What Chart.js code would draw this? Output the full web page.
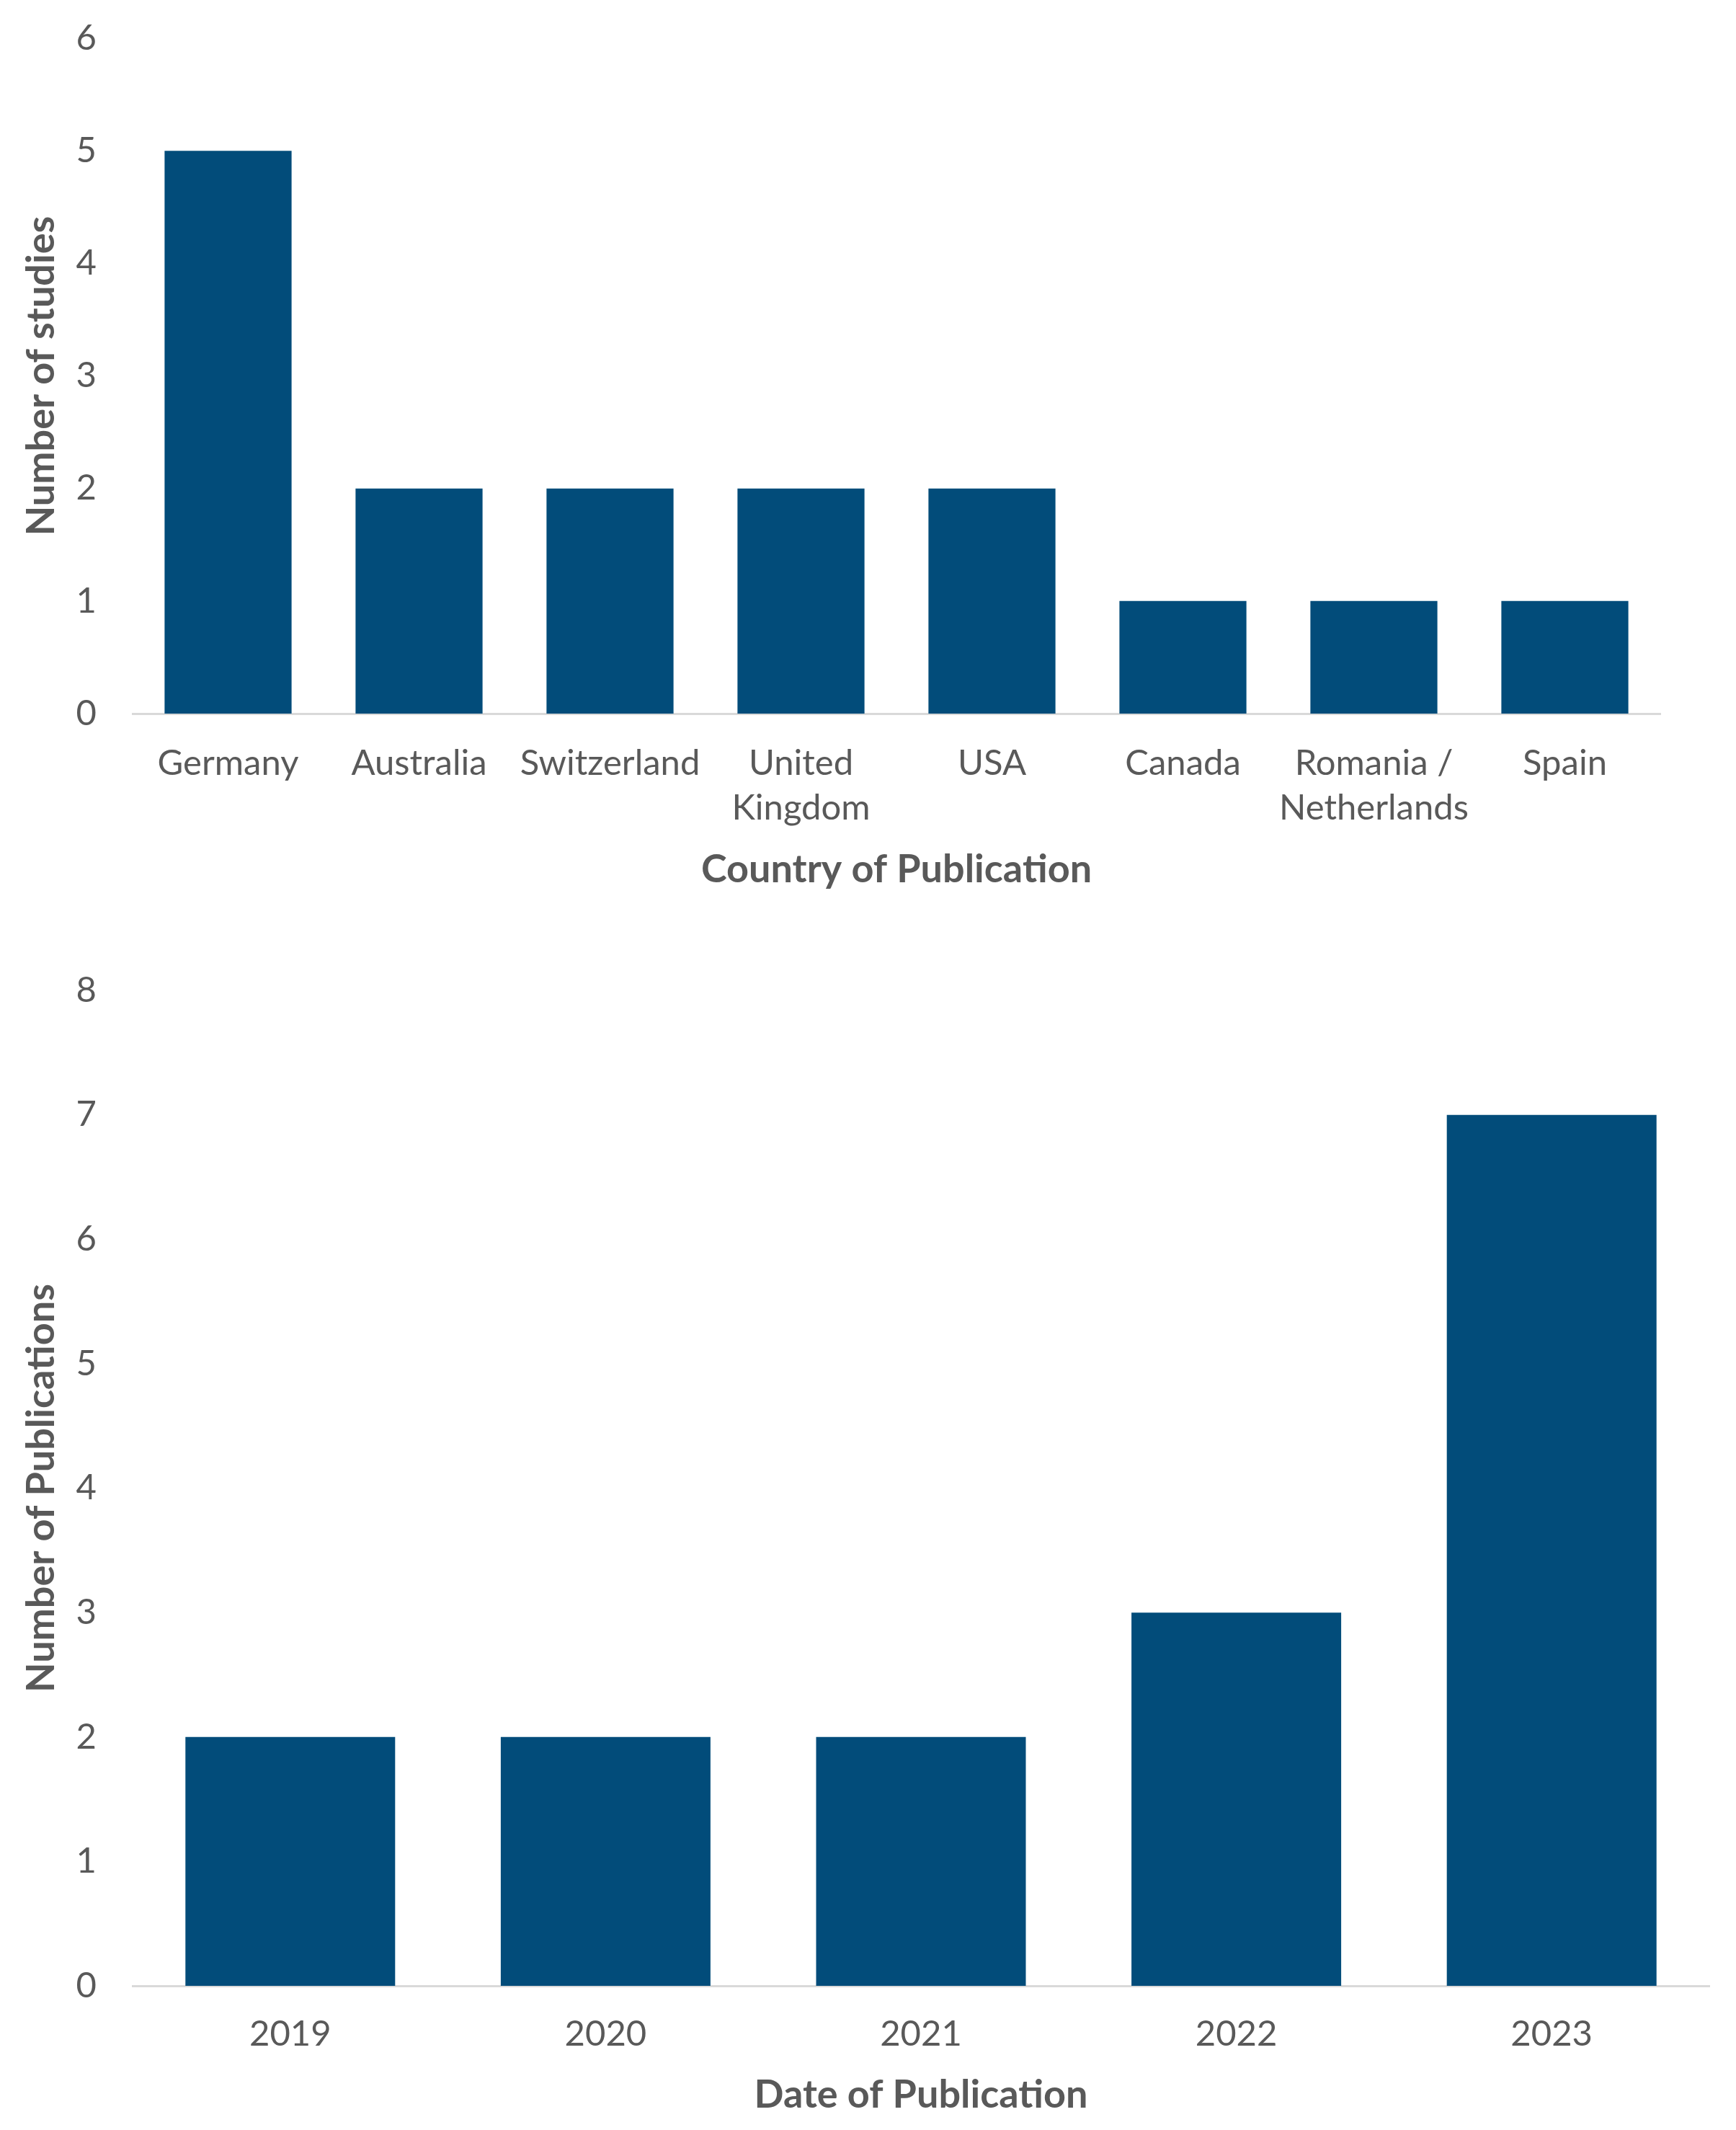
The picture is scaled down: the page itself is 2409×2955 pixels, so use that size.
<!DOCTYPE html>
<html>
<head>
<meta charset="utf-8">
<script src="https://cdn.jsdelivr.net/npm/chart.js@4.4.1/dist/chart.umd.min.js"></script>
<style>
    html, body { margin: 0; padding: 0; background: #fff; }
    body { width: 2409px; height: 2955px; position: relative; overflow: hidden; }
    canvas { position: absolute; left: 0; }
    #chart-country { top: 0; }
    #chart-year { top: 1295px; }
</style>
</head>
<body>
<canvas id="chart-country" width="2409" height="1260"></canvas>
<canvas id="chart-year" width="2409" height="1660"></canvas>
<script>
// Données
const countries = ['Germany', 'Australia', 'Switzerland', ['United', 'Kingdom'], 'USA', 'Canada', ['Romania /', 'Netherlands'], 'Spain'];
const studies = [5, 2, 2, 2, 2, 1, 1, 1];

const years = ['2019', '2020', '2021', '2022', '2023'];
const publications = [2, 2, 2, 3, 7];

const countryMax = 6;
const yearMax = 8;

(function () {
    'use strict';

    Chart.defaults.font.family = 'Lato, "Open Sans", sans-serif';
    Chart.defaults.color = '#595959';

    const bar = '#024c7a';
    const axisLine = '#d9d9d9';
    const tickFont = { size: 49, lineHeight: 1.265 };
    const titleFont = { size: 54, weight: 'bold', lineHeight: 1.2 };

    // Même mise en page pour les deux graphiques : seule la géométrie change.
    function build(canvas, labels, values, max, yTitle, xTitle, geo) {
        return new Chart(canvas, {
            type: 'bar',
            data: {
                labels: labels,
                datasets: [{
                    data: values,
                    backgroundColor: bar,
                    borderWidth: 0,
                    categoryPercentage: 1,
                    barPercentage: 0.665
                }]
            },
            options: {
                responsive: false,
                animation: false,
                devicePixelRatio: 1,
                layout: { padding: { top: geo.top, right: geo.right, left: 0, bottom: 0 } },
                plugins: { legend: { display: false }, tooltip: { enabled: false } },
                scales: {
                    x: {
                        grid: { display: false, drawTicks: false },
                        border: { display: true, color: axisLine, width: 3 },
                        ticks: { font: tickFont, padding: geo.tickPad, maxRotation: 0, autoSkip: false },
                        title: { display: true, text: xTitle, font: titleFont, padding: { top: 0, bottom: geo.titlePad } },
                        afterFit: function (scale) { scale.height = geo.xHeight; }
                    },
                    y: {
                        min: 0,
                        max: max,
                        grid: { display: false, drawTicks: false },
                        border: { display: false },
                        ticks: { stepSize: 1, font: { size: 49 }, padding: 50 },
                        title: { display: true, text: yTitle, font: titleFont, padding: { top: 25, bottom: 0 } },
                        // le padding des graduations ne doit pas repousser la zone du graphique
                        afterFit: function (scale) {
                            scale.width = 184;
                            scale.paddingTop = 30;
                            scale.paddingBottom = 30;
                        }
                    }
                }
            }
        });
    }

    build(document.getElementById('chart-country'), countries, studies, countryMax,
        'Number of studies', 'Country of Publication',
        { top: 53, right: 105, xHeight: 270, tickPad: 38, titlePad: 21 });

    build(document.getElementById('chart-year'), years, publications, yearMax,
        'Number of Publications', 'Date of Publication',
        { top: 79, right: 37, xHeight: 200, tickPad: 36, titlePad: 16 });
})();
</script>
</body>
</html>
